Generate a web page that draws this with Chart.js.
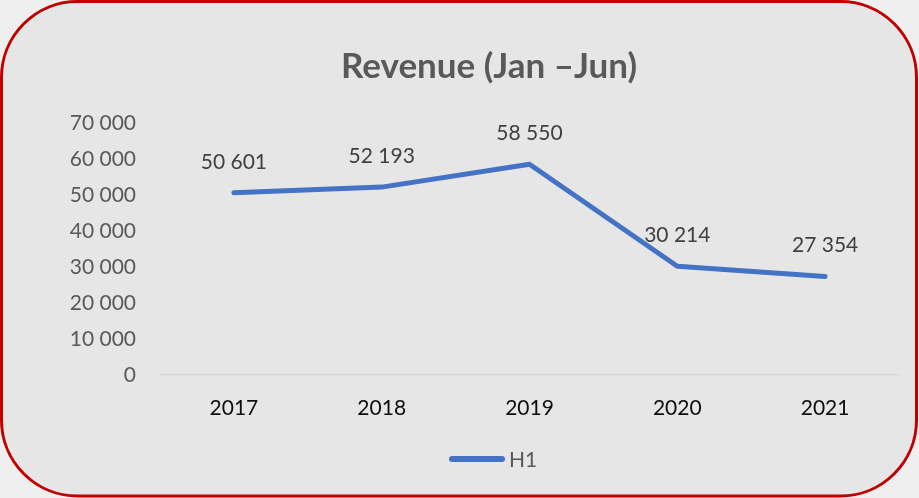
<!DOCTYPE html>
<html>
<head>
<meta charset="utf-8">
<title>Revenue (Jan –Jun)</title>
<script src="https://cdn.jsdelivr.net/npm/chart.js@4.4.1/dist/chart.umd.min.js"></script>
<style>
    html, body { margin: 0; padding: 0; background: #efefef; }
    canvas { display: block; }
</style>
</head>
<body>
<canvas id="myChart" width="919" height="498"></canvas>
<script>
const years = ['2017', '2018', '2019', '2020', '2021'];
const revenueH1 = [50601, 52193, 58550, 30214, 27354];
const seriesName = 'H1';
const titleText = 'Revenue (Jan \u2013Jun)';

const blue = '#4472C4';
const grey = '#595959';

function toSpaced(val) {
    return val.toString().replace(/\B(?=(\d{3})+(?!\d))/g, ' ');
}

// rounded red frame behind everything
const background = {
    id: 'framed_background',
    beforeDraw: (chart) => {
        const { ctx, width, height } = chart;
        ctx.save();
        ctx.fillStyle = '#efefef';
        ctx.fillRect(0, 0, width, height);
        ctx.beginPath();
        ctx.roundRect(1.5, 1.5, width - 4, height - 3.5, 76);
        ctx.fillStyle = '#e7e6e6';
        ctx.fill();
        ctx.lineWidth = 3;
        ctx.strokeStyle = '#c00000';
        ctx.stroke();
        ctx.restore();
    }
};

// title and legend sit a bit right of the canvas centre, so draw them by hand
const titleAndLegend = {
    id: 'title_and_legend',
    afterDraw: (chart) => {
        const { ctx } = chart;
        const ds = chart.data.datasets[0];
        ctx.save();
        ctx.font = 'bold 35px Lato';
        ctx.fillStyle = grey;
        ctx.textAlign = 'center';
        ctx.textBaseline = 'middle';
        ctx.fillText(titleText, 489, 67);

        ctx.beginPath();
        ctx.moveTo(452, 459);
        ctx.lineTo(502, 459);
        ctx.lineWidth = 6;
        ctx.lineCap = 'round';
        ctx.strokeStyle = ds.borderColor;
        ctx.stroke();

        ctx.font = '21px Lato';
        ctx.textAlign = 'left';
        ctx.fillText(ds.label, 509, 460);
        ctx.restore();
    }
};

// value labels above each point
const valueLabels = {
    id: 'value_labels',
    afterDatasetsDraw: (chart) => {
        const { ctx } = chart;
        const meta = chart.getDatasetMeta(0);
        const values = chart.data.datasets[0].data;
        ctx.save();
        ctx.font = '21px Lato';
        ctx.fillStyle = '#404040';
        ctx.textAlign = 'center';
        ctx.textBaseline = 'middle';
        meta.data.forEach((pt, i) => {
            ctx.fillText(toSpaced(values[i]), pt.x, pt.y - 31);
        });
        ctx.restore();
    }
};

const ctx = document.getElementById('myChart').getContext('2d');

const myChart = new Chart(ctx, {
    type: 'line',
    data: {
        labels: years,
        datasets: [{
            label: seriesName,
            data: revenueH1,
            borderColor: blue,
            backgroundColor: blue,
            borderWidth: 5,
            borderCapStyle: 'round',
            borderJoinStyle: 'round',
            pointRadius: 0,
            tension: 0
        }]
    },
    options: {
        responsive: false,
        animation: false,
        layout: {
            padding: { left: 0, right: 20, top: 123, bottom: 60 }
        },
        scales: {
            x: {
                offset: true,
                grid: { display: false, drawTicks: false },
                border: { display: true, color: '#d9d9d9', width: 1.5 },
                ticks: {
                    padding: 21,
                    color: '#0d0d0d',
                    font: { family: 'Lato', size: 21 }
                },
                afterFit: (scale) => { scale.height = 63; }
            },
            y: {
                min: 0,
                max: 70000,
                grid: { display: false, drawTicks: false },
                border: { display: false },
                ticks: {
                    stepSize: 10000,
                    padding: 24,
                    color: grey,
                    font: { family: 'Lato', size: 21 },
                    callback: (v) => toSpaced(v)
                },
                afterFit: (scale) => { scale.width = 160; }
            }
        },
        plugins: {
            title: { display: false },
            legend: { display: false },
            tooltip: { enabled: false }
        }
    },
    plugins: [background, valueLabels, titleAndLegend]
});
</script>
</body>
</html>
